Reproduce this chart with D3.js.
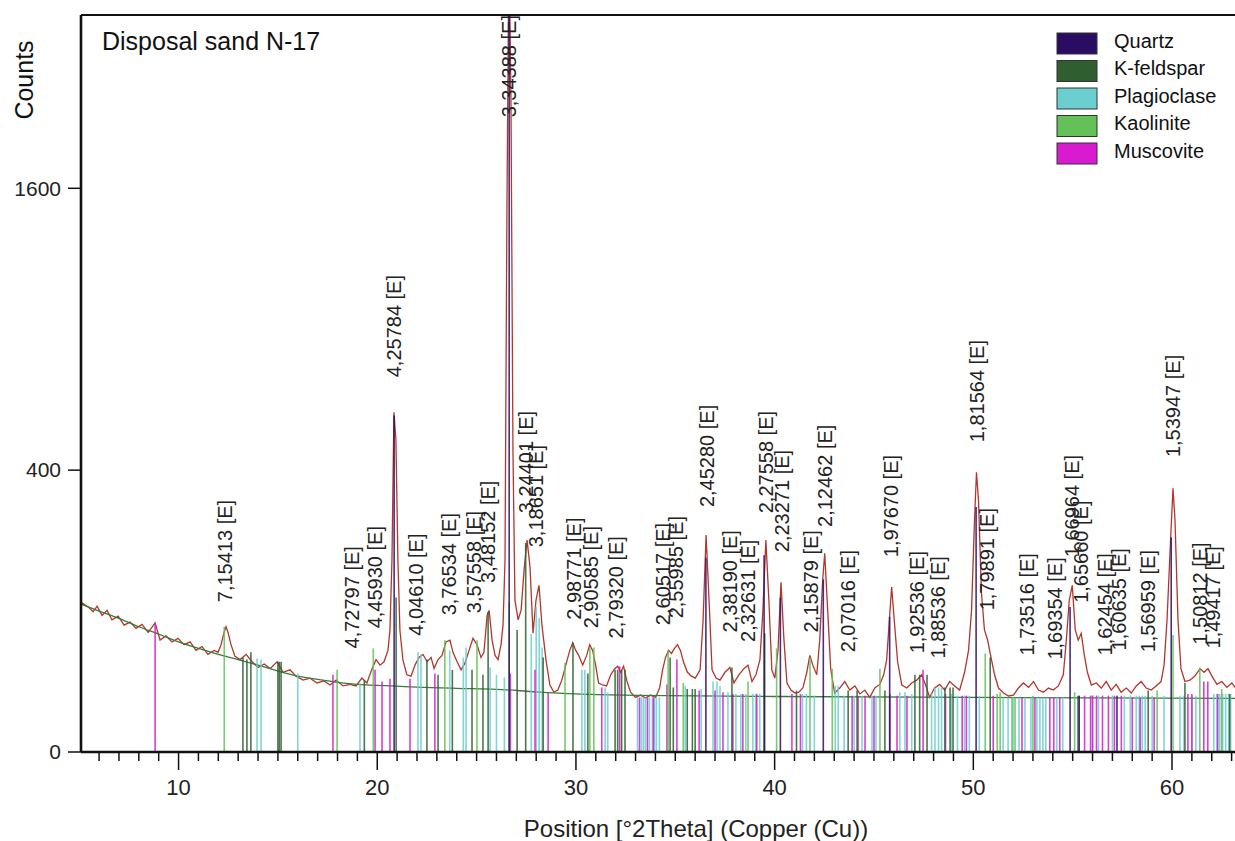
<!DOCTYPE html>
<html>
<head>
<meta charset="utf-8">
<script src="https://cdnjs.cloudflare.com/ajax/libs/d3/7.8.5/d3.min.js"></script>
<style>
  body { margin: 0; background: #fff; }
  svg { display: block; font-family: "Liberation Sans", Arial, sans-serif; }
</style>
</head>
<body>
<script>
// measured pattern, [2theta, counts]
var observed = [
  [5.14,112],[5.45,106],[5.70,99],[5.90,107],[6.15,94],[6.40,101],[6.65,88],[6.96,93],[7.26,81],[7.56,85],
  [7.86,77],[8.16,82],[8.47,72],[8.82,84],[9.07,63],[9.37,68],[9.67,61],[9.97,65],[10.28,58],[10.58,61],
  [10.88,52],[11.18,56],[11.48,48],[11.79,52],[11.99,50],[12.14,58],[12.29,72],[12.39,79],[12.49,72],[12.64,58],
  [12.84,46],[13.10,43],[13.40,48],[13.70,41],[14.01,36],[14.31,39],[14.61,35],[14.96,41],[15.26,32],[15.61,34],
  [15.91,29],[16.27,26],[16.62,27.5],[16.97,24],[17.32,25.4],[17.62,22.6],[17.93,26],[18.28,22],[18.63,23],[18.93,22],
  [19.23,27.5],[19.48,24],[19.74,35],[19.94,43],[20.14,38],[20.34,41],[20.54,52],[20.64,75],[20.74,185],[20.84,581],
  [20.94,490],[21.04,185],[21.14,75],[21.29,43],[21.49,30],[21.70,29],[21.90,38],[22.10,45],[22.30,48],[22.51,41],
  [22.71,45],[22.86,35],[23.06,43],[23.26,47],[23.46,61],[23.66,63],[23.81,50],[24.02,41],[24.22,34],[24.42,40],
  [24.62,52],[24.82,65],[25.02,58],[25.22,45],[25.37,50],[25.53,94],[25.63,101],[25.78,63],[25.93,47],[26.08,43],
  [26.23,58],[26.33,81],[26.43,185],[26.53,1532],[26.63,3300],[26.73,2138],[26.83,459],[26.93,116],[27.09,88],[27.24,101],
  [27.39,167],[27.54,226],[27.69,172],[27.84,71],[27.99,116],[28.14,140],[28.29,81],[28.49,43],[28.69,22.6],[28.89,18],
  [29.09,19.3],[29.29,26],[29.49,38],[29.69,52],[29.84,60],[29.99,52],[30.14,47],[30.34,38],[30.54,47],[30.69,58],
  [30.84,52],[30.99,38],[31.14,24],[31.34,22.6],[31.54,22],[31.75,30],[31.95,35],[32.10,37],[32.25,32],[32.40,37],
  [32.55,26],[32.75,18],[33.00,15],[33.25,16.3],[33.50,14.7],[33.76,16.3],[34.01,15],[34.21,20.6],[34.36,34],[34.51,45],
  [34.66,52],[34.81,49],[34.96,54],[35.11,58],[35.26,52],[35.41,41],[35.61,32],[35.81,29],[36.01,27.5],[36.25,34],
  [36.40,88],[36.55,237],[36.70,116],[36.85,34],[37.05,27.5],[37.25,26],[37.50,32],[37.75,36],[37.95,24],[38.20,30],
  [38.45,35],[38.66,38],[38.86,25],[39.06,30],[39.26,43],[39.41,101],[39.56,226],[39.71,116],[39.86,34],[40.01,27.5],
  [40.17,52],[40.32,145],[40.47,63],[40.62,24],[40.82,19.3],[41.02,17.5],[41.22,18],[41.42,20.6],[41.62,32],[41.77,47],
  [41.92,38],[42.12,30],[42.27,63],[42.42,149],[42.52,199],[42.67,101],[42.82,35],[43.02,17.5],[43.28,20.6],[43.53,25],
  [43.78,19.3],[44.04,22],[44.29,17],[44.54,19.3],[44.79,15],[45.04,20.6],[45.29,23],[45.49,30],[45.64,43],[45.79,94],
  [45.89,137],[46.04,81],[46.19,41],[46.40,22.6],[46.65,20.6],[46.90,24],[47.15,26],[47.40,30],[47.60,22.6],[47.80,15],
  [48.05,20.6],[48.31,23],[48.56,19.3],[48.81,25],[49.06,22],[49.31,19.3],[49.56,32],[49.76,52],[49.91,101],[50.06,271],
  [50.16,394],[50.26,319],[50.41,127],[50.56,75],[50.72,63],[50.87,47],[51.07,30],[51.27,20.6],[51.52,17.5],[51.77,15.8],
  [52.02,16.3],[52.27,20.6],[52.52,24],[52.78,21],[53.03,25],[53.28,19.3],[53.53,18],[53.78,20.6],[54.03,19.3],[54.28,22],
  [54.53,30],[54.68,63],[54.83,116],[54.98,140],[55.13,75],[55.28,63],[55.43,71],[55.59,47],[55.74,32],[55.94,22.6],
  [56.19,24],[56.44,20.6],[56.69,25],[56.94,19.3],[57.19,23],[57.44,18],[57.70,20.6],[57.95,17.5],[58.20,22],[58.45,25],
  [58.70,20.6],[58.95,19.3],[59.20,22],[59.45,25],[59.60,38],[59.75,88],[59.95,248],[60.05,350],[60.15,271],[60.30,88],
  [60.45,35],[60.65,25],[60.90,26],[61.15,29],[61.41,35],[61.61,32],[61.81,35],[62.01,29],[62.26,23],[62.51,25],
  [62.76,21],[63.01,24],[63.17,21]
];

// fitted background
var background = [
  [5.1,110],[6,100],[7,90],[8,79],[9,70],[10,61],[11,54],[12,48],[13,43],[14,38],[15,33],[16,29],[17,26.5],
  [18,24.5],[19,23],[20,22.4],[21,21.8],[22,21.2],[24,20.4],[26,19.8],[28,18.2],[30,17],[33,16.2],[40,15.5],
  [50,15],[63.2,14.5]
];

// reference sticks per phase, [2theta, top in counts]
var quartz = [
  [20.85,570],[26.64,3300],[36.54,190],[39.47,195],[40.29,120],[42.45,150],[45.79,92],[50.14,302],
  [54.87,106],[55.33,16],[57.23,16],[59.96,232]
];
var kfeldspar = [
  [13.24,45],[13.44,43],[13.64,50],[15.0,41],[15.07,41],[15.16,41],[19.35,26],[20.95,120],[22.5,43],[23.06,30],
  [23.78,34],[24.77,34],[25.32,30],[25.58,99],[27.04,75],[27.47,220],[28.35,45],[29.85,60],[30.6,31],[31.97,34],
  [32.1,34],[32.3,34],[32.47,34],[34.74,45],[34.9,21],[35.6,20],[35.86,20],[36.0,20],[37.85,36],[39.5,71],
  [41.1,19],[43.7,19],[44.15,19],[45.55,19],[47.06,30],[47.3,30],[47.67,30],[48.57,21],[48.83,21],[48.98,21],
  [50.85,45],[55.27,16],[58.8,19],[60.65,24],[62.9,17]
];
var plagioclase = [
  [13.95,44],[14.15,43],[16.0,31],[19.13,24],[22.05,50],[22.2,48],[23.65,52],[24.33,45],[24.47,55],[25.68,36],
  [26.0,30],[26.4,28],[27.75,70],[28.0,106],[28.15,90],[28.3,55],[30.3,34],[30.45,34],[31.47,21],[31.6,18],
  [33.1,15],[33.3,15],[33.4,15],[33.5,15],[33.7,15],[33.85,15],[33.95,15],[34.05,15],[34.2,15],[35.5,22],
  [36.3,20],[36.9,25],[37.1,25],[37.25,22],[37.65,18],[38.05,17],[38.3,17],[38.55,17],[38.9,17],[39.05,17],
  [39.25,17],[41.4,17],[41.6,17],[42.0,16],[43.05,22],[43.2,22],[43.5,16],[44.0,16],[44.4,16],[44.9,16],
  [45.1,16],[46.3,18],[46.56,18],[46.9,17],[47.9,17],[48.07,21],[48.25,21],[48.4,21],[48.9,17],[49.2,16],
  [49.55,16],[49.8,16],[50.3,16],[51.5,15],[51.75,15],[52.0,15],[52.3,15],[52.6,15],[52.9,15],[53.2,15],
  [53.35,15],[53.5,15],[53.65,15],[54.2,15],[54.5,15],[56.0,16],[56.3,16],[57.0,16],[57.6,16],[57.9,16],
  [58.2,16],[58.35,16],[58.5,16],[58.65,16],[59.0,16],[59.6,16],[60.4,16],[60.6,16],[61.0,16],[61.2,16],
  [62.1,17],[62.25,17],[62.4,17],[62.55,17],[62.7,17],[62.85,17],[62.95,17]
];
var kaolinite = [
  [12.30,79],[17.98,34],[19.8,54],[23.4,63],[25.02,63],[26.64,112],[29.45,40],[30.7,55],[30.9,55],[34.64,52],
  [35.4,24],[38.66,25],[40.1,54],[41.78,45],[42.9,35],[45.3,35],[50.6,49],[51.2,17],[51.35,18],[51.95,15],
  [52.1,15],[53.0,16],[55.1,18],[59.25,19],[60.05,69],[61.4,36],[62.5,20]
];
var muscovite = [
  [8.82,84],[17.77,30],[19.89,34],[20.24,25],[20.64,27],[21.65,27],[22.9,31],[26.7,31],[27.94,34],[28.6,17.5],
  [31.3,21],[32.2,37],[33.2,15],[33.6,15],[33.9,15],[34.58,23],[35.08,43],[36.2,19],[37.0,19],[37.4,18],
  [37.9,17],[38.4,17],[39.1,17],[40.87,17],[41.3,17],[43.9,16],[44.2,16],[44.55,16],[45.0,16],[45.8,17],
  [46.16,16],[46.66,16],[47.47,34],[48.6,17],[49.44,16],[49.65,16],[51.0,16],[52.45,15],[53.1,15],[53.85,15],
  [54.05,15],[54.35,15],[55.6,16],[55.9,16],[56.0,16],[56.2,16],[56.5,16],[56.8,16],[57.1,16],[57.45,16],
  [58.0,15],[58.4,15],[59.1,15],[60.8,17],[61.0,17],[61.6,25],[61.8,25],[62.3,17]
];

var phaseNames = ["Quartz", "K-feldspar", "Plagioclase", "Kaolinite", "Muscovite"];
var phaseColors = ["#2b0c63", "#2f5f31", "#6ccfcf", "#63c157", "#d81bd0"];

// peak list: position, d-spacing text, base of the label in counts
var peakTheta = [12.36,18.75,19.89,20.85,21.95,23.61,24.88,25.56,26.64,27.47,27.98,29.88,30.74,32.02,34.40,35.03,
  36.61,37.74,38.68,39.58,40.36,41.81,42.52,43.70,45.87,47.16,48.23,50.21,50.71,52.71,54.11,54.95,55.41,56.61,
  57.31,58.78,60.05,61.43,62.07];
var peakText = ["7,15413","4,72797","4,45930","4,25784","4,04610","3,76534","3,57558","3,48152","3,34388","3,24401",
  "3,18651","2,98771","2,90585","2,79320","2,60517","2,55985","2,45280","2,38190","2,32631","2,27558","2,23271",
  "2,15879","2,12462","2,07016","1,97670","1,92536","1,88536","1,81564","1,79891","1,73516","1,69354","1,66964",
  "1,65660","1,62454","1,60635","1,56959","1,53947","1,50812","1,49417"];
var peakBase = [113,54,77,707,68,94,97,144,2028,287,211,88,77,65,81,90,302,72,61,287,201,72,255,50,191,49,44,483,
  101,47,43,191,112,47,52,50,438,58,54];

var xMajor = [10, 20, 30, 40, 50, 60];
var yTicks = [0, 400, 1600];

var width = 1235, height = 841;
var plotLeft = 81, plotRight = 1235, plotTop = 15, plotBottom = 752;

var x = d3.scaleLinear().domain([5.09, 63.17]).range([plotLeft, plotRight]);
var y = d3.scaleSqrt().domain([0, 2735]).range([plotBottom, plotTop]);

var svg = d3.select("body").append("svg")
    .attr("width", width)
    .attr("height", height);

svg.append("clipPath").attr("id", "plot")
  .append("rect")
    .attr("x", plotLeft).attr("y", plotTop)
    .attr("width", plotRight - plotLeft).attr("height", plotBottom - plotTop);

var plot = svg.append("g").attr("clip-path", "url(#plot)");

var line = d3.line()
    .x(function(d) { return x(d[0]); })
    .y(function(d) { return y(d[1]); });

// measured profile
plot.append("path")
    .datum(observed)
    .attr("fill", "none")
    .attr("stroke", "#b3362c")
    .attr("stroke-width", 1.3)
    .attr("d", line);

// background curve
plot.append("path")
    .datum(background)
    .attr("fill", "none")
    .attr("stroke", "#3b7a3a")
    .attr("stroke-width", 1.3)
    .attr("d", line.curve(d3.curveMonotoneX));

// sticks, drawn in this order so quartz ends up on top
var phases = [plagioclase, muscovite, kaolinite, kfeldspar, quartz];
var phaseIndex = [2, 4, 3, 1, 0];
phases.forEach(function(list, i) {
  plot.append("g").selectAll("line")
    .data(list)
    .enter().append("line")
      .attr("x1", function(d) { return x(d[0]); })
      .attr("x2", function(d) { return x(d[0]); })
      .attr("y1", y(0))
      .attr("y2", function(d) { return y(d[1]); })
      .attr("stroke", phaseColors[phaseIndex[i]])
      .attr("stroke-width", 1.6)
      .attr("opacity", 0.85);
});

// d-spacing labels
plot.append("g").selectAll("text")
  .data(peakTheta)
  .enter().append("text")
    .attr("transform", function(d, i) { return "translate(" + x(d) + "," + y(peakBase[i]) + ") rotate(-90)"; })
    .attr("dy", "0.35em")
    .attr("font-size", 20)
    .attr("fill", "#222")
    .text(function(d, i) { return peakText[i] + " [E]"; });

// frame
svg.append("line").attr("x1", plotLeft).attr("x2", plotRight).attr("y1", plotTop).attr("y2", plotTop)
    .attr("stroke", "#111").attr("stroke-width", 2.2);
svg.append("line").attr("x1", plotLeft).attr("x2", plotLeft).attr("y1", plotTop).attr("y2", plotBottom)
    .attr("stroke", "#111").attr("stroke-width", 2.6);
svg.append("line").attr("x1", plotLeft).attr("x2", plotRight).attr("y1", plotBottom).attr("y2", plotBottom)
    .attr("stroke", "#111").attr("stroke-width", 2.6);

// x axis ticks, minor each degree and longer ones every ten
var minor = d3.range(6, 64).filter(function(d) { return d % 10 !== 0; });
svg.append("g").selectAll("line")
  .data(minor)
  .enter().append("line")
    .attr("x1", function(d) { return x(d); }).attr("x2", function(d) { return x(d); })
    .attr("y1", plotBottom).attr("y2", plotBottom + 9)
    .attr("stroke", "#111").attr("stroke-width", 1.5);

svg.append("g").selectAll("line")
  .data(xMajor)
  .enter().append("line")
    .attr("x1", function(d) { return x(d); }).attr("x2", function(d) { return x(d); })
    .attr("y1", plotBottom).attr("y2", plotBottom + 18)
    .attr("stroke", "#111").attr("stroke-width", 1.5);

svg.append("g").selectAll("text")
  .data(xMajor)
  .enter().append("text")
    .attr("x", function(d) { return x(d); })
    .attr("y", 795)
    .attr("text-anchor", "middle")
    .attr("font-size", 22)
    .attr("fill", "#222")
    .text(function(d) { return d; });

// y axis ticks
svg.append("g").selectAll("line")
  .data(yTicks)
  .enter().append("line")
    .attr("x1", plotLeft - 13).attr("x2", plotLeft)
    .attr("y1", function(d) { return y(d); }).attr("y2", function(d) { return y(d); })
    .attr("stroke", "#111").attr("stroke-width", 1.5);

svg.append("g").selectAll("text")
  .data(yTicks)
  .enter().append("text")
    .attr("x", 61)
    .attr("y", function(d) { return y(d); })
    .attr("dy", "0.35em")
    .attr("text-anchor", "end")
    .attr("font-size", 21)
    .attr("fill", "#222")
    .text(function(d) { return d; });

// titles
svg.append("text")
    .attr("x", 696).attr("y", 837)
    .attr("text-anchor", "middle")
    .attr("font-size", 24)
    .attr("fill", "#222")
    .text("Position [°2Theta] (Copper (Cu))");

svg.append("text")
    .attr("transform", "translate(33,80) rotate(-90)")
    .attr("text-anchor", "middle")
    .attr("font-size", 25)
    .attr("fill", "#111")
    .text("Counts");

svg.append("text")
    .attr("x", 102).attr("y", 50)
    .attr("font-size", 25)
    .attr("fill", "#111")
    .text("Disposal sand N-17");

// legend
var legend = svg.append("g").selectAll("g")
  .data(phaseNames)
  .enter().append("g")
    .attr("transform", function(d, i) { return "translate(1057," + (33 + i * 27.5) + ")"; });

legend.append("rect")
    .attr("width", 40).attr("height", 21)
    .attr("fill", function(d, i) { return phaseColors[i]; })
    .attr("stroke", "#333").attr("stroke-width", 1);

legend.append("text")
    .attr("x", 57).attr("y", 14.5)
    .attr("font-size", 20)
    .attr("fill", "#111")
    .text(function(d) { return d; });
</script>
</body>
</html>
